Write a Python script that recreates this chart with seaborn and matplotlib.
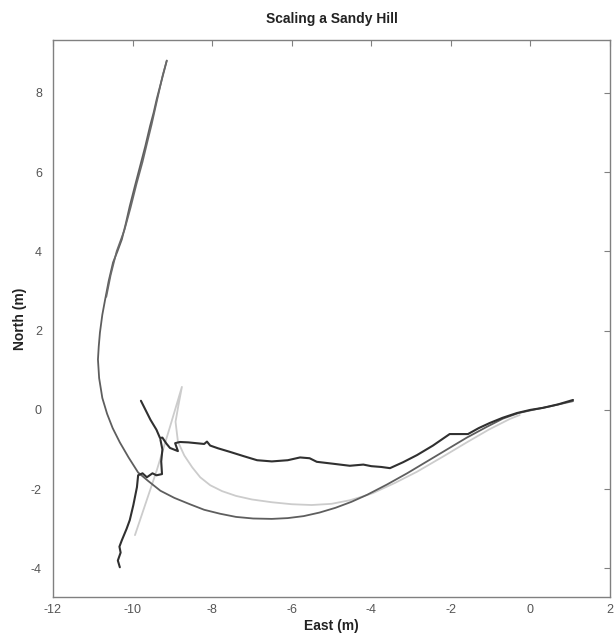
import matplotlib
matplotlib.use("Agg")
import matplotlib.pyplot as plt
import seaborn as sns
import pandas as pd

# ---- data (East, North in metres) ----
light_x = [-9.94, -9.39, -9.06, -8.76, -8.85, -8.92, -8.86, -8.7, -8.5, -8.3, -8.05, -7.75,
           -7.4, -7.0, -6.5, -6.0, -5.5, -5.0, -4.54, -4.2, -3.96, -3.4, -2.85, -2.2,
           -1.6, -1.05, -0.52, -0.27]
light_y = [-3.16, -1.52, -0.43, 0.58, 0.1, -0.3, -0.8, -1.15, -1.45, -1.7, -1.9, -2.05,
           -2.17, -2.26, -2.33, -2.38, -2.4, -2.37, -2.28, -2.18, -2.1, -1.84, -1.56, -1.18,
           -0.82, -0.5, -0.23, -0.13]

mid_x = [1.07, 0.5, 0.06, -0.3, -0.69, -1.1, -1.6, -2.1, -2.6, -3.1, -3.6, -4.1, -4.5,
         -4.9, -5.3, -5.7, -6.1, -6.5, -6.97, -7.4, -7.8, -8.2, -8.56, -8.95, -9.3, -9.6,
         -9.86, -10.1, -10.32, -10.5, -10.64, -10.76, -10.84, -10.87, -10.85, -10.82,
         -10.76, -10.69, -10.6, -10.49, -10.38, -10.27, -10.17, -10.07, -9.94, -9.81,
         -9.68, -9.56, -9.47, -9.39, -9.26, -9.14]
mid_y = [0.22, 0.09, 0.0, -0.08, -0.22, -0.43, -0.7, -1.0, -1.3, -1.6, -1.88, -2.14, -2.32,
         -2.47, -2.59, -2.68, -2.73, -2.75, -2.74, -2.7, -2.62, -2.52, -2.38, -2.22, -2.04,
         -1.8, -1.58, -1.2, -0.82, -0.46, -0.1, 0.3, 0.8, 1.27, 1.6, 1.95,
         2.4, 2.78, 3.25, 3.72, 4.0, 4.3, 4.7, 5.14, 5.65, 6.15,
         6.65, 7.16, 7.5, 7.85, 8.35, 8.81]

mid2_x = [-9.14, -9.24, -9.33, -9.42, -9.52, -9.63, -9.75, -9.9, -10.05, -10.2, -10.4,
          -10.55, -10.66]
mid2_y = [8.81, 8.45, 8.05, 7.65, 7.2, 6.75, 6.25, 5.7, 5.1, 4.55, 4.0, 3.4, 2.85]

dark_x = [-9.79, -9.55, -9.4, -9.31, -9.25, -9.15, -9.06, -8.86, -8.93, -8.81, -8.6, -8.4,
          -8.2, -8.13, -8.05, -7.85, -7.55, -7.2, -6.87, -6.5, -6.1, -5.79, -5.55, -5.37,
          -4.95, -4.54, -4.2, -4.0, -3.75, -3.53, -3.2, -2.85, -2.45, -2.03, -1.57,
          -1.3, -1.02, -0.7, -0.34, 0.0, 0.31, 0.7, 1.07]
dark_y = [0.23, -0.25, -0.5, -0.71, -0.7, -0.85, -0.96, -1.04, -0.84, -0.81, -0.82, -0.84,
          -0.86, -0.8, -0.9, -0.97, -1.06, -1.17, -1.27, -1.3, -1.27, -1.2, -1.22, -1.31,
          -1.36, -1.41, -1.38, -1.42, -1.44, -1.47, -1.32, -1.14, -0.9, -0.61, -0.61,
          -0.46, -0.33, -0.2, -0.08, 0.0, 0.05, 0.14, 0.25]

dark2_x = [-10.32, -10.37, -10.3, -10.33, -10.27, -10.15, -10.07, -9.98, -9.89, -9.86,
           -9.75, -9.64, -9.5, -9.4, -9.26, -9.28, -9.25, -9.3]
dark2_y = [-3.97, -3.8, -3.6, -3.45, -3.29, -3.0, -2.78, -2.4, -1.95, -1.65,
           -1.6, -1.7, -1.6, -1.65, -1.62, -1.3, -1.0, -0.75]

x_ticks = [-12, -10, -8, -6, -4, -2, 0, 2]
y_ticks = [-4, -2, 0, 2, 4, 6, 8]

sns.set_theme(style="white")
plt.rcParams['font.family'] = ['Liberation Sans', 'DejaVu Sans']

fig = plt.figure(figsize=(6.14, 6.40), dpi=100)
ax = fig.add_axes([0.0863, 0.0672, 0.9072, 0.8703])

tracks = [
    (light_x, light_y, "#cccccc", 1.3),
    (mid_x, mid_y, "#5e5e5e", 1.3),
    (mid2_x, mid2_y, "#6a6a6a", 1.2),
    (dark_x, dark_y, "#303030", 1.5),
    (dark2_x, dark2_y, "#303030", 1.5),
]
for xs, ys, col, lw in tracks:
    df = pd.DataFrame({"East": xs, "North": ys})
    sns.lineplot(data=df, x="East", y="North", sort=False, estimator=None,
                 color=col, linewidth=lw, ax=ax)

ax.set_xlim(-12, 2)
ax.set_ylim(-4.72, 9.33)
ax.set_xticks(x_ticks)
ax.set_yticks(y_ticks)
ax.set_xticklabels([str(t) for t in x_ticks])
ax.set_yticklabels([str(t) for t in y_ticks])

for s in ax.spines.values():
    s.set_visible(True)
    s.set_color("#808080")
    s.set_linewidth(1.0)
ax.tick_params(direction="in", length=4, width=0.8, color="#808080",
               top=True, right=True, labelsize=9, labelcolor="#555555", pad=5)
ax.tick_params(axis="y", pad=8)

ax.set_title("Scaling a Sandy Hill", fontsize=10, fontweight="bold", color="#222222", pad=12)
ax.set_xlabel("East (m)", fontsize=10, fontweight="bold", color="#222222", labelpad=2)
ax.set_ylabel("North (m)", fontsize=10, fontweight="bold", color="#222222", labelpad=3)

fig.savefig("out.png", dpi=100)
